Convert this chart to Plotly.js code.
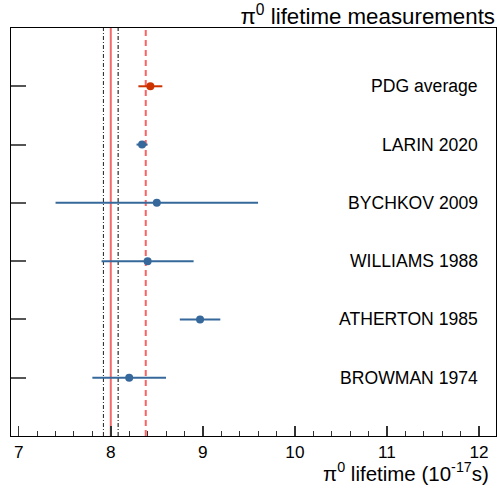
<!DOCTYPE html>
<html>
<head>
<meta charset="utf-8">
<script src="https://cdn.plot.ly/plotly-3.0.1.min.js"></script>
<style>
  html, body { margin: 0; padding: 0; background: #fff; }
  #chart { width: 500px; height: 489px; }
</style>
</head>
<body>
<div id="chart"></div>
<script>
// π0 lifetime measurements, in units of 1e-17 s
const experiments = ["BROWMAN 1974", "ATHERTON 1985", "WILLIAMS 1988", "BYCHKOV 2009", "LARIN 2020"];
const lifetimes   = [8.20, 8.97, 8.40, 8.50, 8.34];
const errors      = [0.40, 0.22, 0.50, 1.10, 0.06];

const pdgLabel    = "PDG average";
const pdgLifetime = [8.43];
const pdgError    = [0.13];

// reference lines: prediction with its band, and the mean of the measurements
const predCentral = 8.00;
const predBand    = [7.92, 8.08];
const measMean    = 8.38;

const rows = experiments.map((_, i) => i + 1);
const pdgRow = [experiments.length + 1];

const font = "Liberation Sans, Arial, Helvetica, sans-serif";

const traces = [
  {
    x: lifetimes, y: rows, type: "scatter", mode: "markers",
    marker: { color: "#36689b", size: 8 },
    error_x: { type: "data", array: errors, visible: true, color: "#36689b", thickness: 2, width: 0 },
    hoverinfo: "x+y", showlegend: false
  },
  {
    x: pdgLifetime, y: pdgRow, type: "scatter", mode: "markers",
    marker: { color: "#cc3300", size: 8 },
    error_x: { type: "data", array: pdgError, visible: true, color: "#cc3300", thickness: 2, width: 0 },
    showlegend: false
  }
];

const vline = (x, line) => ({ type: "line", xref: "x", yref: "paper", x0: x, x1: x, y0: 0, y1: 1, line, layer: "below" });
const shapes = [
  vline(predBand[0], { color: "#222", width: 1, dash: "4px,2px,1px,2px" }),
  vline(predBand[1], { color: "#000", width: 1, dash: "4px,2px,1px,2px" }),
  vline(predCentral, { color: "rgba(240,80,80,0.85)", width: 2 }),
  vline(measMean, { color: "rgba(255,80,80,0.9)", width: 2, dash: "6px,4px" })
];

const labels = experiments.concat([pdgLabel]);
const annotations = labels.map((t, i) => ({
  text: t, xref: "paper", yref: "y", x: 0.968, y: i + 1,
  xanchor: "right", yanchor: "middle", showarrow: false,
  font: { family: font, size: 17.6, color: "#000" }
}));
annotations.push({
  text: "π<sup>0</sup> lifetime (10<sup>-17</sup>s)",
  xref: "paper", yref: "paper", x: 0.99, y: -0.088,
  xanchor: "right", yanchor: "middle", showarrow: false,
  font: { family: font, size: 20.5, color: "#000" }
});

const layout = {
  width: 500, height: 489,
  margin: { l: 11, r: 4, t: 28, b: 53, pad: 0 },
  paper_bgcolor: "#fff", plot_bgcolor: "#fff",
  font: { family: font, color: "#000" },
  title: {
    text: "π<sup>0</sup> lifetime measurements",
    x: 0.998, xanchor: "right", xref: "paper",
    y: 0.966, yanchor: "middle", yref: "container",
    font: { family: font, size: 22.3, color: "#000" }
  },
  xaxis: {
    range: [6.916, 12.185],
    tickvals: [7, 8, 9, 10, 11, 12],
    ticks: "inside", ticklen: 10, tickwidth: 1.5, tickcolor: "#333",
    minor: { dtick: 0.2, tick0: 7, ticks: "inside", ticklen: 5, tickwidth: 1, tickcolor: "#333", showgrid: false },
    showgrid: false, zeroline: false,
    showline: true, linecolor: "#000", linewidth: 1, mirror: true,
    tickfont: { family: font, size: 17.2, color: "#000" }
  },
  yaxis: {
    range: [0, 7],
    tickvals: rows.concat(pdgRow),
    showticklabels: false,
    ticks: "inside", ticklen: 15, tickwidth: 2, tickcolor: "#555",
    showgrid: false, zeroline: false,
    showline: true, linecolor: "#000", linewidth: 1, mirror: true
  },
  shapes, annotations
};

Plotly.newPlot("chart", traces, layout, { staticPlot: true, displayModeBar: false });
</script>
</body>
</html>
